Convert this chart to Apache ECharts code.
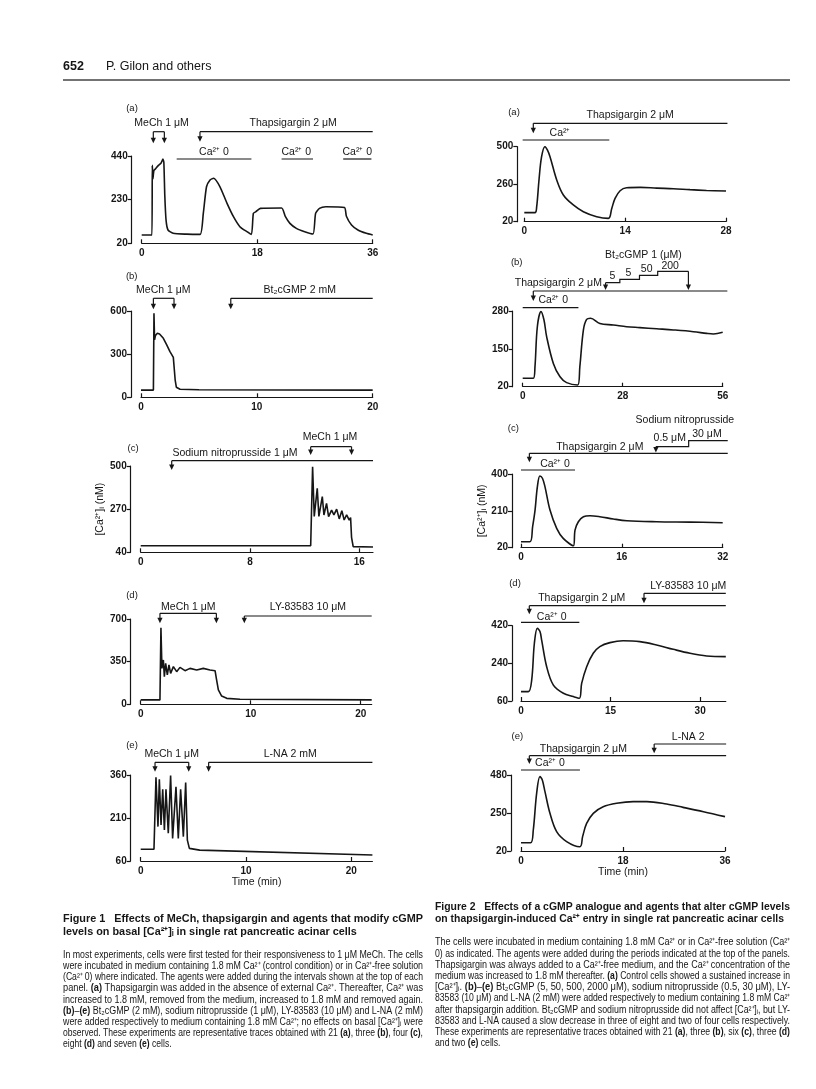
<!DOCTYPE html>
<html><head><meta charset="utf-8">
<script src="https://cdn.jsdelivr.net/npm/echarts@6/dist/echarts.min.js"></script>
<style>html,body{margin:0;padding:0;background:#fff}#c{width:816px;height:1089px}</style>
</head><body><div id="c"></div>
<script>
// ---------------- DATA (time in min, [Ca2+]i in nM) ----------------
// Figure 1
const f1aTrace = [[0,60],[1.6,60],[1.65,395],[1.75,330],[1.9,370],[2.2,380],[2.6,395],[3.0,405],[3.3,425],[3.45,410],[3.6,250],[3.8,130],[4.1,84],[4.9,68],[7,64],[9.1,63],[9.6,164],[10.1,292],[10.65,325],[11.2,333],[12.2,292],[13.3,212],[14.3,148],[15.3,100],[16.4,76],[17.1,63],[17.4,164],[17.8,172],[18.5,188],[21.8,190],[22.4,148],[23.1,116],[24.1,92],[25.4,76],[26.7,65],[27.1,164],[27.7,188],[28.7,196],[31.6,192],[31.9,150],[32.7,108],[33.7,84],[35,68],[36,60]];
const f1bTrace = [[0,50],[1.07,50],[1.12,584],[1.17,400],[1.25,430],[1.41,445],[1.6,440],[1.93,410],[2.22,364],[2.5,317],[2.79,278],[2.88,265],[2.95,120],[3.05,70],[3.37,56],[5,52],[20,50]];
const f1cTrace = [[0,75],[12.44,75],[12.58,496],[12.7,231],[12.92,381],[13.04,231],[13.29,337],[13.41,239],[13.6,301],[13.75,230],[13.97,265],[14.14,240],[14.34,270],[14.53,218],[14.72,262],[14.89,212],[15.07,240],[15.26,212],[15.36,225],[15.43,120],[15.55,70],[17,68]];
const f1dTrace = [[0,36],[1.75,36],[1.84,629],[1.93,295],[2.06,364],[2.15,227],[2.27,336],[2.42,241],[2.57,323],[2.72,254],[2.97,309],[3.27,268],[3.57,303],[4.03,276],[4.48,295],[5.09,282],[5.69,295],[6.3,282],[6.76,276],[6.9,200],[7.06,118],[7.36,68],[7.82,49],[9.03,41],[21,36]];
const f1eTrace = [[0,101],[1.26,101],[1.45,352],[1.64,180],[1.77,345],[1.93,186],[2.09,310],[2.25,168],[2.4,310],[2.62,157],[2.84,358],[3.03,139],[3.35,319],[3.57,139],[3.79,310],[4.05,145],[4.27,334],[4.43,133],[4.62,104],[5.6,98],[22,81]];
// Figure 2
const f2aTrace = [[0,78],[1.48,78],[1.72,116],[2.04,287],[2.4,436],[2.87,500],[3.2,479],[3.57,436],[4.5,287],[5.42,191],[6.8,127],[8.2,84],[10.05,52],[11.67,41],[12.14,105],[12.6,169],[13.3,218],[14.2,237],[16.1,240],[18.4,235],[20.7,231],[23,225],[25.3,220],[28,216]];
const f2bTrace = [[0,49],[2.97,49],[3.44,89],[4.1,226],[5.12,278],[5.96,249],[6.7,192],[8.58,100],[10.45,54],[12.3,34],[15.4,26],[16,89],[17,215],[17.9,251],[19,255],[21.6,237],[25.4,232],[29.1,226],[32.8,223],[37.5,219],[42.2,215],[47.8,209],[51.5,203],[53.4,201],[56,207]];
const f2cTrace = [[0,51],[1.43,51],[1.84,128],[2.23,214],[2.6,335],[3.0,390],[3.4,378],[3.8,335],[4.6,214],[5.66,120],[6.7,68],[8.3,30],[8.57,111],[9.1,154],[9.9,180],[10.95,185],[12.5,180],[14.65,168],[16.8,159],[21.5,154],[26.8,152],[32,149]];
const f2dTrace = [[0,105],[1.23,105],[1.79,160],[2.24,336],[2.74,407],[3.19,391],[3.46,351],[4.3,224],[5.42,136],[7.1,97],[8.77,81],[9.77,73],[10.16,144],[11,224],[12.1,288],[13.2,320],[14.9,339],[17.1,348],[19.9,344],[22.7,328],[25.5,307],[28.3,288],[31.1,275],[34.3,272]];
const f2eTrace = [[0,70],[1.7,70],[2.17,147],[2.76,369],[3.34,470],[3.76,450],[4.23,379],[5.11,248],[6.29,137],[8.05,77],[10.4,46],[10.87,107],[11.58,187],[12.76,248],[14.5,288],[16.87,309],[19.8,319],[22.2,319],[25.7,304],[28.6,284],[32.2,258],[36,228]];
// tick labels
const f1aXTicks=[0,18,36], f1aYTicks=[20,230,440];
const f1bXTicks=[0,10,20], f1bYTicks=[0,300,600];
const f1cXTicks=[0,8,16],  f1cYTicks=[40,270,500];
const f1dXTicks=[0,10,20], f1dYTicks=[0,350,700];
const f1eXTicks=[0,10,20], f1eYTicks=[60,210,360];
const f2aXTicks=[0,14,28], f2aYTicks=[20,260,500];
const f2bXTicks=[0,28,56], f2bYTicks=[20,150,280];
const f2cXTicks=[0,16,32], f2cYTicks=[20,210,400];
const f2dXTicks=[0,15,30], f2dYTicks=[60,240,420];
const f2eXTicks=[0,18,36], f2eYTicks=[20,250,480];

// ---------------- LAYOUT / ANNOTATIONS ----------------
const INK='#161616';
const FN='"Liberation Sans", Arial, Helvetica, sans-serif';
const CA='Ca\u00B2\u207A';
// p: polyline [t, pageY]; a: arrow [t, yFrom, yTip]; s: text at t, pageY
const annL_a=[{p:[[1.81,131.7],[3.53,131.7]]},{a:[1.81,131.7,143.3]},{a:[3.53,131.7,143.3]},{s:'MeCh 1 \u03BCM',t:3.1,y:123},
  {p:[[9.08,131.7],[36,131.7]]},{a:[9.08,131.7,141.7]},{s:'Thapsigargin 2 \u03BCM',t:23.6,y:123},
  {p:[[5.45,159],[17.1,159]]},{p:[[21.8,159],[26.7,159]]},{p:[[31.4,159],[35.8,159]]},
  {s:CA+' 0',t:11.26,y:152.5},{s:CA+' 0',t:24.1,y:152.5},{s:CA+' 0',t:33.6,y:152.5}];
const annL_b=[{p:[[1.07,298.3],[2.85,298.3]]},{a:[1.07,298.3,309.3]},{a:[2.85,298.3,309.3]},{s:'MeCh 1 \u03BCM',t:1.93,y:290},
  {p:[[7.75,298.3],[20,298.3]]},{a:[7.75,298.3,309.3]},{s:'Bt\u2082cGMP 2 mM',t:13.7,y:290}];
const annL_c=[{p:[[2.27,460.7],[17,460.7]]},{a:[2.27,460.7,470]},{s:'Sodium nitroprusside 1 \u03BCM',t:6.9,y:453.3},
  {p:[[12.44,446.7],[15.43,446.7]]},{a:[12.44,446.7,455]},{a:[15.43,446.7,455]},{s:'MeCh 1 \u03BCM',t:13.85,y:436.7}];
const annL_d=[{p:[[1.75,613.3],[6.88,613.3]]},{a:[1.75,613.3,623.3]},{a:[6.88,613.3,623.3]},{s:'MeCh 1 \u03BCM',t:4.33,y:607},
  {p:[[9.42,616],[21,616]]},{a:[9.42,616,623.3]},{s:'LY-83583 10 \u03BCM',t:15.2,y:607}];
const annL_e=[{p:[[1.36,762.3],[4.56,762.3]]},{a:[1.36,762.3,771.7]},{a:[4.56,762.3,771.7]},{s:'MeCh 1 \u03BCM',t:2.94,y:754},
  {p:[[6.45,762.3],[22,762.3]]},{a:[6.45,762.3,771.7]},{s:'L-NA 2 mM',t:14.2,y:754}];
const annR_a=[{p:[[1.25,123.3],[28.2,123.3]]},{a:[1.25,123.3,133.3]},{s:'Thapsigargin 2 \u03BCM',t:14.7,y:115},
  {p:[[-0.23,140],[11.8,140]]},{s:CA,t:4.96,y:133}];
const annR_b=[{p:[[2.97,291],[57.3,291]]},{a:[2.97,291,301]},{s:'Thapsigargin 2 \u03BCM',t:9.97,y:283.3},
  {p:[[0,307.7],[15.6,307.7]]},{s:CA+' 0',t:8.57,y:300},
  {p:[[23.2,282.7],[27.2,282.7],[27.2,279.3],[32.7,279.3],[32.7,275.3],[37.8,275.3],[37.8,271.3],[46.4,271.3]]},
  {a:[23.2,282.7,290]},{a:[46.4,271.3,290]},
  {s:'5',t:25.1,y:276},{s:'5',t:29.6,y:272.7},{s:'50',t:34.7,y:269.3},{s:'200',t:41.3,y:266},{s:'Bt\u2082cGMP 1 (\u03BCM)',t:33.8,y:255}];
const annR_c=[{p:[[1.33,453.3],[32.8,453.3]]},{a:[1.33,453.3,462.3]},{s:'Thapsigargin 2 \u03BCM',t:12.5,y:446.7},
  {p:[[0,470],[8.57,470]]},{s:CA+' 0',t:5.4,y:464},
  {p:[[21.4,446.7],[26.6,446.7],[26.6,440.7],[32.8,440.7]]},{a:[21.4,446.7,452.5]},
  {s:'0.5 \u03BCM',t:23.6,y:438},{s:'30 \u03BCM',t:29.5,y:434.5},{s:'Sodium nitroprusside',t:26.0,y:420}];
const annR_d=[{p:[[1.39,605.7],[34.3,605.7]]},{a:[1.39,605.7,614.3]},{s:'Thapsigargin 2 \u03BCM',t:10.17,y:598.3},
  {p:[[20.6,593.3],[34.3,593.3]]},{a:[20.6,593.3,603.3]},{s:'LY-83583 10 \u03BCM',t:28,y:586},
  {p:[[0,622.3],[9.77,622.3]]},{s:CA+' 0',t:5.14,y:616.7}];
const annR_e=[{p:[[1.47,755.7],[36.2,755.7]]},{a:[1.47,755.7,764]},{s:'Thapsigargin 2 \u03BCM',t:11,y:749.3},
  {p:[[23.5,744],[36.2,744]]},{a:[23.5,744,753.3]},{s:'L-NA 2',t:29.5,y:737.3},
  {p:[[0,770],[10.4,770]]},{s:CA+' 0',t:5.1,y:762.7}];

const panels=[
 {g:[141.7,156,231,87.3], x:[0,36], y:[20,440], off:10, d:f1aTrace, xt:f1aXTicks, yt:f1aYTicks, an:annL_a, lab:['(a)',132,108], sm:0.2},
 {g:[141,311,231.7,86.3], x:[0,20], y:[0,600], off:10, d:f1bTrace, xt:f1bXTicks, yt:f1bYTicks, an:annL_b, lab:['(b)',131.7,276.7], sm:0},
 {g:[140.7,466,232.3,86.3], x:[0,17], y:[40,500], off:10, d:f1cTrace, xt:f1cXTicks, yt:f1cYTicks, an:annL_c, lab:['(c)',133,448], yName:25, sm:0},
 {g:[140.7,619,231,85.3], x:[0,21], y:[0,700], off:10, d:f1dTrace, xt:f1dXTicks, yt:f1dYTicks, an:annL_d, lab:['(d)',132,595], sm:0},
 {g:[140.7,775,231.7,86], x:[0,22], y:[60,360], off:10, d:f1eTrace, xt:f1eXTicks, yt:f1eYTicks, an:annL_e, lab:['(e)',132,745], xName:15, sm:0},
 {g:[524.3,146.7,201.7,75], x:[0,28], y:[20,500], off:7, d:f2aTrace, xt:f2aXTicks, yt:f2aYTicks, an:annR_a, lab:['(a)',514,112.7], sm:0.35},
 {g:[522.7,311,200,75.7], x:[0,56], y:[20,280], off:10, d:f2bTrace, xt:f2bXTicks, yt:f2bYTicks, an:annR_b, lab:['(b)',516.7,262.7], sm:0.35},
 {g:[521,474,201.7,73.7], x:[0,32], y:[20,400], off:9, d:f2cTrace, xt:f2cXTicks, yt:f2cYTicks, an:annR_c, lab:['(c)',513.3,428.3], yName:17, sm:0.35},
 {g:[521,625.7,204.8,75.3], x:[0,34.3], y:[60,420], off:9, d:f2dTrace, xt:f2dXTicks, yt:f2dYTicks, an:annR_d, lab:['(d)',515,583.3], sm:0.35},
 {g:[521,775,204,76], x:[0,36], y:[20,480], off:10, d:f2eTrace, xt:f2eXTicks, yt:f2eYTicks, an:annR_e, lab:['(e)',517.3,736], xName:12, sm:0.35}
];

function annoRender(items, yMin){
  return function(params, api){
    const X = t => api.coord([t, yMin])[0];
    const ch=[];
    items.forEach(it=>{
      if(it.p){
        ch.push({type:'polyline', shape:{points: it.p.map(q=>[X(q[0]), q[1]])}, style:{stroke:INK, lineWidth:1.2, fill:null}});
      } else if(it.a){
        const x=X(it.a[0]), y1=it.a[1], y2=it.a[2];
        ch.push({type:'line', shape:{x1:x,y1:y1,x2:x,y2:y2-4}, style:{stroke:INK,lineWidth:1.2}});
        ch.push({type:'polygon', shape:{points:[[x-2.6,y2-5.5],[x+2.6,y2-5.5],[x,y2]]}, style:{fill:INK}});
      } else if(it.s){
        ch.push({type:'text', x:X(it.t), y:it.y, style:{text:it.s, font:'10.5px '+FN, fill:INK,
          align:'center', verticalAlign:'middle', textAlign:'center', textVerticalAlign:'middle'}});
      }
    });
    return {type:'group', children:ch};
  };
}

const grid=[], xAxis=[], yAxis=[], series=[], graphics=[];
panels.forEach((P,i)=>{
  grid.push({left:P.g[0], top:P.g[1], width:P.g[2], height:P.g[3], containLabel:false});
  xAxis.push({type:'value', gridIndex:i, min:P.x[0], max:P.x[1],
    axisLine:{show:true,onZero:false,lineStyle:{color:INK,width:1.2}},
    axisTick:{show:true,inside:true,length:4,customValues:P.xt,lineStyle:{color:INK,width:1.2}},
    axisLabel:{customValues:P.xt,color:INK,fontFamily:FN,fontSize:10,fontWeight:'bold',margin:5},
    splitLine:{show:false},
    name:P.xName?'Time (min)':'', nameLocation:'middle', nameGap:P.xName||0,
    nameTextStyle:{color:INK,fontFamily:FN,fontSize:10.5}});
  yAxis.push({type:'value', gridIndex:i, min:P.y[0], max:P.y[1], offset:P.off,
    axisLine:{show:true,onZero:false,lineStyle:{color:INK,width:1.2}},
    axisTick:{show:true,length:4,customValues:P.yt,lineStyle:{color:INK,width:1.2}},
    axisLabel:{customValues:P.yt,color:INK,fontFamily:FN,fontSize:10,fontWeight:'bold',margin:4},
    splitLine:{show:false},
    name:P.yName?'[Ca\u00B2\u207A]\u1D62 (nM)':'', nameLocation:'middle', nameRotate:90, nameGap:P.yName||0,
    nameTextStyle:{color:INK,fontFamily:FN,fontSize:10.5}});
  series.push({type:'line', xAxisIndex:i, yAxisIndex:i, data:P.d, showSymbol:false, smooth:P.sm,
    lineStyle:{color:INK,width:1.6}, clip:true, silent:true});
  series.push({type:'custom', xAxisIndex:i, yAxisIndex:i, data:[[P.x[0],P.y[0]]], clip:false, silent:true,
    renderItem:annoRender(P.an, P.y[0])});
  graphics.push({type:'text', x:P.lab[1], y:P.lab[2], style:{text:P.lab[0], font:'9.5px '+FN, fill:INK,
    align:'center', verticalAlign:'middle', textAlign:'center', textVerticalAlign:'middle'}});
});

// ---------------- header & captions ----------------
graphics.push({type:'text', x:63, y:67, style:{text:'652', font:'bold 12.5px '+FN, fill:INK, verticalAlign:'middle', textVerticalAlign:'middle'}});
graphics.push({type:'text', x:106, y:67, style:{text:'P. Gilon and others', font:'12.5px '+FN, fill:INK, verticalAlign:'middle', textVerticalAlign:'middle'}});
graphics.push({type:'line', shape:{x1:63,y1:80,x2:790,y2:80}, style:{stroke:'#444',lineWidth:1.6}});

const cap1Title=['Figure 1   Effects of MeCh, thapsigargin and agents that modify cGMP',
 'levels on basal [Ca\u00B2\u207A]\u1D62 in single rat pancreatic acinar cells'];
const cap1Body=['In most experiments, cells were first tested for their responsiveness to 1 \u03BCM MeCh. The cells',
 'were incubated in medium containing 1.8 mM Ca\u00B2\u207A (control condition) or in Ca\u00B2\u207A-free solution',
 '(Ca\u00B2\u207A 0) where indicated. The agents were added during the intervals shown at the top of each',
 'panel. {b|(a)} Thapsigargin was added in the absence of external Ca\u00B2\u207A. Thereafter, Ca\u00B2\u207A was',
 'increased to 1.8 mM, removed from the medium, increased to 1.8 mM and removed again.',
 '{b|(b)}\u2013{b|(e)} Bt\u2082cGMP (2 mM), sodium nitroprusside (1 \u03BCM), LY-83583 (10 \u03BCM) and L-NA (2 mM)',
 'were added respectively to medium containing 1.8 mM Ca\u00B2\u207A; no effects on basal [Ca\u00B2\u207A]\u1D62 were',
 'observed. These experiments are representative traces obtained with 21 {b|(a)}, three {b|(b)}, four {b|(c)},',
 'eight {b|(d)} and seven {b|(e)} cells.'];
const cap2Title=['Figure 2   Effects of a cGMP analogue and agents that alter cGMP levels',
 'on thapsigargin-induced Ca\u00B2\u207A entry in single rat pancreatic acinar cells'];
const cap2Body=['The cells were incubated in medium containing 1.8 mM Ca\u00B2\u207A or in Ca\u00B2\u207A-free solution (Ca\u00B2\u207A',
 '0) as indicated. The agents were added during the periods indicated at the top of the panels.',
 'Thapsigargin was always added to a Ca\u00B2\u207A-free medium, and the Ca\u00B2\u207A concentration of the',
 'medium was increased to 1.8 mM thereafter. {b|(a)} Control cells showed a sustained increase in',
 '[Ca\u00B2\u207A]\u1D62. {b|(b)}\u2013{b|(e)} Bt\u2082cGMP (5, 50, 500, 2000 \u03BCM), sodium nitroprusside (0.5, 30 \u03BCM), LY-',
 '83583 (10 \u03BCM) and L-NA (2 mM) were added respectively to medium containing 1.8 mM Ca\u00B2\u207A',
 'after thapsigargin addition. Bt\u2082cGMP and sodium nitroprusside did not affect [Ca\u00B2\u207A]\u1D62, but LY-',
 '83583 and L-NA caused a slow decrease in three of eight and two of four cells respectively.',
 'These experiments are representative traces obtained with 21 {b|(a)}, three {b|(b)}, six {b|(c)}, three {b|(d)}',
 'and two {b|(e)} cells.'];

const mctx=document.createElement('canvas').getContext('2d');
function mw(t,f){mctx.font=f;return mctx.measureText(t).width;}
function measure(line,f,bf){let tot=0,last=0,m;const re=/\{b\|([^}]*)\}/g;
  while((m=re.exec(line))){tot+=mw(line.slice(last,m.index),f);tot+=mw(m[1],bf);last=re.lastIndex;}
  return tot+mw(line.slice(last),f);}
function para(lines,x,W,y0,lh,f,bf,justifyLast){
  let s=0.85;
  lines.forEach((ln,k)=>{
    const w=measure(ln,f,bf);
    const full = k<lines.length-1 || justifyLast;
    if(full) s=W/w;
    graphics.push({type:'text', x:x, y:y0+k*lh, scaleX:s, scaleY:1,
      style:{text:ln, font:f, fill:INK, rich:{b:{font:bf, fill:INK}}, verticalAlign:'middle', textVerticalAlign:'middle'}});
  });
}
const TF='bold 11px '+FN, BF='10px '+FN, BBF='bold 10px '+FN;
para(cap1Title, 63, 360, 919.3, 12.4, TF, TF, false);
para(cap1Body, 63, 360, 955, 11.2, BF, BBF, false);
para(cap2Title, 435, 355, 906.7, 12.6, TF, TF, false);
para(cap2Body, 435, 355, 942.7, 11.2, BF, BBF, false);

const chart=echarts.init(document.getElementById('c'),null,{renderer:'canvas'});
chart.setOption({animation:false, backgroundColor:'#fff', grid, xAxis, yAxis, series, graphic:{elements:graphics}});
</script></body></html>
